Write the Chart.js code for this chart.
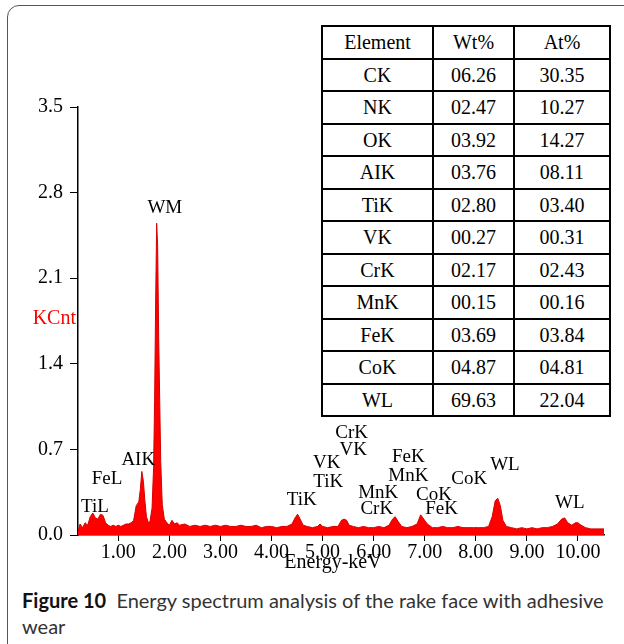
<!DOCTYPE html>
<html>
<head>
<meta charset="utf-8">
<script src="https://cdn.jsdelivr.net/npm/chart.js@4"></script>
<style>
    html, body { margin: 0; padding: 0; background: #fff; }
    body { width: 624px; height: 644px; position: relative; overflow: hidden; }
    #frame {
        position: absolute; left: 7px; top: 5px; width: 700px; height: 700px;
        border: 1.5px solid #555; border-radius: 12px; box-sizing: border-box;
    }
    #chartWrap { position: absolute; left: 0; top: 0; width: 624px; height: 575px; }
    #results {
        position: absolute; left: 321px; top: 25px; width: 284px;
        border-collapse: collapse; background: #fff; table-layout: fixed;
        font-family: "Liberation Serif", "DejaVu Serif", serif; font-size: 20px; color: #000;
    }
    #results tr { height: 32.5px; }
    #results td { border: 2.5px solid #000; text-align: center; padding: 0; line-height: 20px; }
    #caption {
        position: absolute; left: 22px; top: 587px; width: 590px;
        font-family: Lato, "Noto Sans", sans-serif; font-size: 20px; line-height: 26px; color: #333;
    }
    #caption b { color: #111; }
</style>
</head>
<body>
<div id="frame"></div>
<div id="chartWrap"><canvas id="spectrum"></canvas></div>
<table id="results"></table>
<div id="caption"><b>Figure 10</b>&nbsp; Energy spectrum analysis of the rake face with adhesive wear</div>

<script>
// spectrum (keV / KCnt)
const ENERGY = [
    0.21, 0.25, 0.30, 0.35, 0.40, 0.45, 0.50, 0.55, 0.60, 0.65, 0.70, 0.75,
    0.80, 0.85, 0.90, 0.95, 1.00, 1.05, 1.10, 1.15, 1.20, 1.25, 1.30, 1.35,
    1.40, 1.43, 1.46, 1.49, 1.52, 1.55, 1.59, 1.62, 1.66, 1.69, 1.71, 1.73,
    1.75, 1.77, 1.79, 1.81, 1.83, 1.86, 1.90, 1.95, 2.00, 2.05, 2.10, 2.15,
    2.20, 2.30, 2.40, 2.50, 2.60, 2.70, 2.80, 2.90, 3.00, 3.10, 3.20, 3.30,
    3.40, 3.50, 3.60, 3.70, 3.80, 3.90, 4.00, 4.10, 4.20, 4.30, 4.40, 4.46,
    4.51, 4.56, 4.62, 4.70, 4.80, 4.90, 4.95, 5.00, 5.10, 5.20, 5.30, 5.37,
    5.42, 5.47, 5.52, 5.60, 5.70, 5.80, 5.90, 6.00, 6.10, 6.20, 6.30, 6.37,
    6.42, 6.48, 6.55, 6.65, 6.75, 6.85, 6.92, 6.98, 7.05, 7.15, 7.25, 7.35,
    7.45, 7.55, 7.65, 7.75, 7.85, 7.95, 8.05, 8.15, 8.25, 8.32, 8.38, 8.43,
    8.48, 8.53, 8.60, 8.70, 8.80, 8.90, 9.00, 9.10, 9.20, 9.30, 9.40, 9.50,
    9.60, 9.68, 9.74, 9.80, 9.88, 9.95, 10.00, 10.06, 10.15, 10.25, 10.35, 10.51,
];
const COUNTS = [
    0.03, 0.09, 0.06, 0.10, 0.08, 0.15, 0.18, 0.14, 0.13, 0.17, 0.16, 0.10,
    0.08, 0.07, 0.08, 0.07, 0.08, 0.07, 0.08, 0.09, 0.09, 0.10, 0.12, 0.24,
    0.27, 0.37, 0.52, 0.44, 0.28, 0.15, 0.10, 0.11, 0.22, 0.55, 1.09, 1.88,
    2.55, 2.36, 1.62, 1.10, 0.60, 0.25, 0.13, 0.10, 0.08, 0.12, 0.09, 0.10,
    0.08, 0.09, 0.07, 0.08, 0.07, 0.08, 0.07, 0.08, 0.07, 0.08, 0.07, 0.07,
    0.08, 0.07, 0.07, 0.08, 0.06, 0.07, 0.07, 0.06, 0.07, 0.07, 0.09, 0.14,
    0.17, 0.13, 0.08, 0.07, 0.06, 0.07, 0.09, 0.07, 0.06, 0.07, 0.07, 0.12,
    0.13, 0.12, 0.08, 0.07, 0.06, 0.07, 0.06, 0.06, 0.07, 0.06, 0.08, 0.13,
    0.15, 0.11, 0.07, 0.06, 0.07, 0.09, 0.165, 0.13, 0.09, 0.06, 0.06, 0.07,
    0.06, 0.06, 0.07, 0.06, 0.06, 0.06, 0.06, 0.06, 0.07, 0.15, 0.28, 0.30,
    0.24, 0.12, 0.07, 0.06, 0.05, 0.06, 0.05, 0.06, 0.05, 0.06, 0.06, 0.07,
    0.09, 0.13, 0.14, 0.10, 0.08, 0.10, 0.10, 0.08, 0.06, 0.05, 0.05, 0.05,
];

const X_TICKS = [1, 2, 3, 4, 5, 6, 7, 8, 9, 10];
const Y_TICKS = [0, 0.7, 1.4, 2.1, 2.8, 3.5];

// peak labels and where they sit (keV, KCnt)
const PEAK_LABELS = ['WM', 'AIK', 'FeL', 'TiL', 'TiK', 'TiK', 'VK', 'VK', 'CrK',
                     'MnK', 'CrK', 'FeK', 'MnK', 'CoK', 'FeK', 'CoK', 'WL', 'WL'];
const LABEL_KEV  = [1.91, 1.39, 0.78, 0.54, 4.59, 5.11, 5.08, 5.60, 5.57,
                    6.09, 6.06, 6.68, 6.68, 7.18, 7.33, 7.87, 8.57, 9.84];
const LABEL_KCNT = [2.67, 0.61, 0.46, 0.23, 0.29, 0.43, 0.59, 0.695, 0.83,
                    0.34, 0.21, 0.64, 0.48, 0.33, 0.21, 0.46, 0.57, 0.26];

// quantification table
const ELEMENTS = ['CK', 'NK', 'OK', 'AIK', 'TiK', 'VK', 'CrK', 'MnK', 'FeK', 'CoK', 'WL'];
const WT_PCT   = ['06.26', '02.47', '03.92', '03.76', '02.80', '00.27', '02.17', '00.15', '03.69', '04.87', '69.63'];
const AT_PCT   = ['30.35', '10.27', '14.27', '08.11', '03.40', '00.31', '02.43', '00.16', '03.84', '04.81', '22.04'];

const SERIF = '"Liberation Serif", "DejaVu Serif", serif';

const table = document.getElementById('results');
const colW = ['109px', '79px', '94px'];
[['Element', 'Wt%', 'At%'], ...ELEMENTS.map((el, i) => [el, WT_PCT[i], AT_PCT[i]])]
    .forEach(row => {
        const tr = table.insertRow();
        row.forEach((txt, c) => {
            const td = tr.insertCell();
            td.textContent = txt;
            td.style.width = colW[c];
        });
    });

const peakLabels = {
    id: 'peakLabels',
    afterDatasetsDraw(chart) {
        const { ctx, scales: { x, y }, chartArea } = chart;
        ctx.save();
        ctx.font = `19px ${SERIF}`;
        ctx.fillStyle = '#000';
        ctx.textAlign = 'center';
        ctx.textBaseline = 'middle';
        PEAK_LABELS.forEach((txt, i) => {
            ctx.fillText(txt, x.getPixelForValue(LABEL_KEV[i]), y.getPixelForValue(LABEL_KCNT[i]));
        });
        // axis title sits a little left of centre in the original
        ctx.font = `20px ${SERIF}`;
        ctx.fillText('Energy-keV', (chartArea.left + chartArea.right) / 2 - 8, chartArea.bottom + 28);
        // y unit, written level beside the axis
        ctx.fillStyle = '#ff0000';
        ctx.textAlign = 'right';
        ctx.fillText('KCnt', chartArea.left - 2, y.getPixelForValue(1.77));
        ctx.restore();
    },
};

new Chart(document.getElementById('spectrum').getContext('2d'), {
    type: 'line',
    data: {
        datasets: [{
            data: ENERGY.map((e, i) => ({ x: e, y: COUNTS[i] })),
            fill: 'origin',
            backgroundColor: '#ff0000',
            borderColor: '#d40000',
            borderWidth: 1,
            pointRadius: 0,
            tension: 0,
        }],
    },
    options: {
        responsive: true,
        maintainAspectRatio: false,
        animation: false,
        layout: { padding: { left: 0, top: 107, right: 20, bottom: 0 } },
        plugins: { legend: { display: false }, tooltip: { enabled: false } },
        scales: {
            x: {
                type: 'linear',
                min: 0.21,
                max: 10.51,
                afterBuildTicks: s => { s.ticks = X_TICKS.map(v => ({ value: v })); },
                afterFit: s => { s.height = 40; },
                ticks: {
                    color: '#000',
                    padding: 0,
                    maxRotation: 0,
                    font: { family: SERIF, size: 20 },
                    callback: v => v.toFixed(2),
                },
                grid: { drawOnChartArea: false, color: '#000', tickLength: 6 },
                border: { color: '#000', width: 1.5 },
            },
            y: {
                min: 0,
                max: 3.5,
                afterBuildTicks: s => { s.ticks = Y_TICKS.map(v => ({ value: v })); },
                afterFit: s => { s.width = 78; },
                ticks: {
                    color: '#000',
                    padding: 7,
                    font: { family: SERIF, size: 20 },
                    callback: v => v.toFixed(1),
                },
                grid: { drawOnChartArea: false, color: '#000', tickLength: 8 },
                border: { color: '#000', width: 1.5 },
            },
        },
    },
    plugins: [peakLabels],
});
</script>
</body>
</html>
